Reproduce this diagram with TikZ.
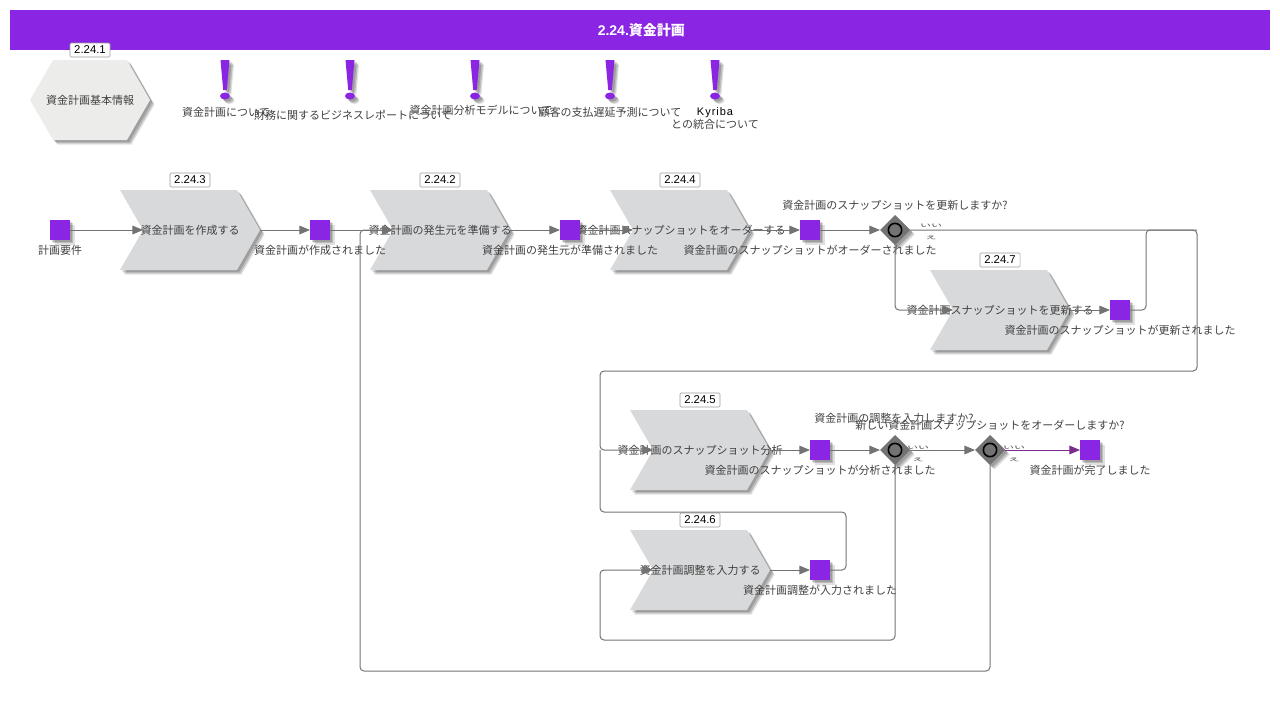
\documentclass[tikz,border=0pt]{standalone}
\usepackage{fontspec}
\setmainfont{Noto Sans CJK JP}
\newfontfamily\latinfont{Liberation Sans}
\usetikzlibrary{shapes.geometric,shapes.symbols,shadows,arrows.meta}

\definecolor{planpurple}{HTML}{8A26E3}
\definecolor{planline}{HTML}{737373}
\definecolor{planfunc}{HTML}{D8D9DB}
\definecolor{planinfo}{HTML}{ECECEA}
\definecolor{plantext}{HTML}{404040}
\definecolor{planexit}{HTML}{7B2D8E}

\tikzset{
	planshadow/.style={
		drop shadow={shadow xshift=3.4pt,shadow yshift=-3.4pt,opacity=.12,fill=black},
		drop shadow={shadow xshift=2.6pt,shadow yshift=-2.6pt,opacity=.16,fill=black},
		drop shadow={shadow xshift=1.6pt,shadow yshift=-1.6pt,opacity=.16,fill=black}},
	func/.style={signal,signal from=west,signal to=east,signal pointer angle=120,fill=planfunc,minimum width=105pt,minimum height=60pt,inner sep=0pt,outer sep=0pt,planshadow},
	info/.style={signal,signal from=nowhere,signal to=east and west,signal pointer angle=120,fill=planinfo,minimum width=90pt,minimum height=60pt,inner sep=0pt,outer sep=0pt,planshadow},
	event/.style={rectangle,fill=planpurple,minimum size=15pt,inner sep=0pt,outer sep=0pt,planshadow},
	gate/.style={diamond,fill=planline,minimum width=22.5pt,minimum height=22.5pt,inner sep=0pt,outer sep=0pt,planshadow},
	gatering/.style={circle,draw=black,line width=1.2pt,fill=planline,minimum size=10pt,inner sep=0pt},
	txt/.style={text=plantext,font=\fontsize{8.25pt}{10pt}\selectfont,inner sep=0pt},
	badge/.style={rectangle,draw=gray!80,rounded corners=1pt,fill=white,line width=.4pt,minimum width=30pt,minimum height=10.5pt,inner sep=0pt,font=\latinfont\fontsize{8.5pt}{10pt}\selectfont},
	conn/.style={draw=planline,line width=.75pt,rounded corners=3pt,-{Triangle[length=8pt,width=6.5pt,fill=planline]}},
	bare/.style={draw=planline,line width=.75pt,rounded corners=3pt},
}

% exclamation mark with its caption
\newcommand{\planhint}[5]{
	\fill[planpurple,planshadow] (#2-4.5,60) -- (#2+4.5,60) -- (#2+1.8,90) -- (#2-1.8,90) -- cycle (#2,96) ellipse (5 and 3.5);
	\node[txt] (#1) at (#3,#4) {#5};
}
\newcommand{\planno}[3]{
	\node[txt,align=center] (#1) at (#2,#3) {\scalebox{1}[.45]{いい}\\[-1pt]\scalebox{1}[.45]{え}};
}

\begin{document}
\begin{tikzpicture}[x=.75pt,y=-.75pt]
	\useasboundingbox (0,0) rectangle (1280,701);
	\node[rectangle,fill=planpurple,minimum width=945pt,minimum height=30pt,inner sep=0pt,text=white,font=\fontsize{10.5pt}{12pt}\selectfont\bfseries] (title) at (640,30) {\hspace{2pt}{\latinfont\bfseries 2.24.}資金計画};

	% overview row
	\node[info] (basic) at (90,100) {};
	\node[txt] (basictext) at (90,100) {資金計画基本情報};
	\node[badge] (basicno) at (90,50) {2.24.1};
	\planhint{hinta}{225}{226}{112}{資金計画について}
	\planhint{hintb}{350}{353}{115}{財務に関するビジネスレポートについて}
	\planhint{hintc}{475}{481}{110}{資金計画分析モデルについて}
	\planhint{hintd}{610}{610}{112}{顧客の支払遅延予測について}
	\planhint{hinte}{715}{715}{124}{との統合について}
	\node[txt,text=black,font=\latinfont\fontsize{8.25pt}{10pt}\selectfont\addfontfeatures{LetterSpace=9}] (kyriba) at (715,113) {Kyriba};

	% functions
	\node[func] (create) at (190,230) {};
	\node[func] (source) at (440,230) {};
	\node[func] (order) at (680,230) {};
	\node[func] (update) at (1000,310) {};
	\node[func] (analyse) at (700,450) {};
	\node[func] (adjust) at (700,570) {};
	\node[txt] (createtext) at (190,230) {資金計画を作成する};
	\node[txt] (sourcetext) at (440,230) {資金計画の発生元を準備する};
	\node[txt] (ordertext) at (681,230) {資金計画スナップショットをオーダーする};
	\node[txt] (updatetext) at (1000,310) {資金計画スナップショットを更新する};
	\node[txt] (analysetext) at (700,450) {資金計画のスナップショット分析};
	\node[txt] (adjusttext) at (700,570) {資金計画調整を入力する};
	\node[badge] (createno) at (190,180) {2.24.3};
	\node[badge] (sourceno) at (440,180) {2.24.2};
	\node[badge] (orderno) at (680,180) {2.24.4};
	\node[badge] (updateno) at (1000,260) {2.24.7};
	\node[badge] (analyseno) at (700,400) {2.24.5};
	\node[badge] (adjustno) at (700,520) {2.24.6};

	% events
	\node[event] (need) at (60,230) {};
	\node[event] (created) at (320,230) {};
	\node[event] (sourced) at (570,230) {};
	\node[event] (ordered) at (810,230) {};
	\node[event] (updated) at (1120,310) {};
	\node[event] (analysed) at (820,450) {};
	\node[event] (adjusted) at (820,570) {};
	\node[event] (done) at (1090,450) {};
	\node[txt] (needtext) at (60,250.5) {計画要件};
	\node[txt] (createdtext) at (320,250.5) {資金計画が作成されました};
	\node[txt] (sourcedtext) at (570,250.5) {資金計画の発生元が準備されました};
	\node[txt] (orderedtext) at (810,250.5) {資金計画のスナップショットがオーダーされました};
	\node[txt] (updatedtext) at (1120,330.5) {資金計画のスナップショットが更新されました};
	\node[txt] (analysedtext) at (820,470.5) {資金計画のスナップショットが分析されました};
	\node[txt] (adjustedtext) at (820,590.5) {資金計画調整が入力されました};
	\node[txt] (donetext) at (1090,470.5) {資金計画が完了しました};

	% gateways
	\node[gate] (gateupdate) at (895,230) {};
	\node[gate] (gateadjust) at (895,450) {};
	\node[gate] (gatenew) at (990,450) {};
	\node[gatering] (ringupdate) at (gateupdate) {};
	\node[gatering] (ringadjust) at (gateadjust) {};
	\node[gatering] (ringnew) at (gatenew) {};
	\node[txt] (askupdate) at (895,205.5) {資金計画のスナップショットを更新しますか?};
	\node[txt] (askadjust) at (894,418.5) {資金計画の調整を入力しますか?};
	\node[txt] (asknew) at (990,425.5) {新しい資金計画スナップショットをオーダーしますか?};
	\planno{noupdate}{931}{232}
	\planno{noadjust}{918}{453.5}
	\planno{nonew}{1014}{453.5}

	% connectors
	\draw[conn] (need) -- (create.west);
	\draw[conn] (create.east) -- (created);
	\draw[conn] (created) -- (source.west);
	\draw[conn] (source.east) -- (sourced);
	\draw[conn] (sourced) -- (order.west);
	\draw[conn] (order.east) -- (ordered);
	\draw[conn] (ordered) -- (gateupdate);
	\draw[conn] (gateupdate.south) -- (895,310) -- (update.west);
	\draw[conn] (update.east) -- (updated);
	\draw[bare] (updated) -- (1146,310) -- (1146,230) -- (1197,230);
	\draw[conn] (gateupdate.east) -- (1197,230) -- (1197,371) -- (600,371) -- (600,450) -- (analyse.west);
	\draw[conn] (analyse.east) -- (analysed);
	\draw[conn] (analysed) -- (gateadjust);
	\draw[conn] (gateadjust) -- (gatenew);
	\draw[conn,draw=planexit,-{Triangle[length=8pt,width=6.5pt,fill=planexit]}] (gatenew) -- (done);
	\draw[conn] (gateadjust.south) -- (895,640) -- (600,640) -- (600,570) -- (adjust.west);
	\draw[conn] (adjust.east) -- (adjusted);
	\draw[bare] (adjusted) -- (846,570) -- (846,512) -- (600,512) -- (600,450);
	\draw[conn] (gatenew.south) -- (990,671) -- (360,671) -- (360,230) -- (source.west);
\end{tikzpicture}
\end{document}
